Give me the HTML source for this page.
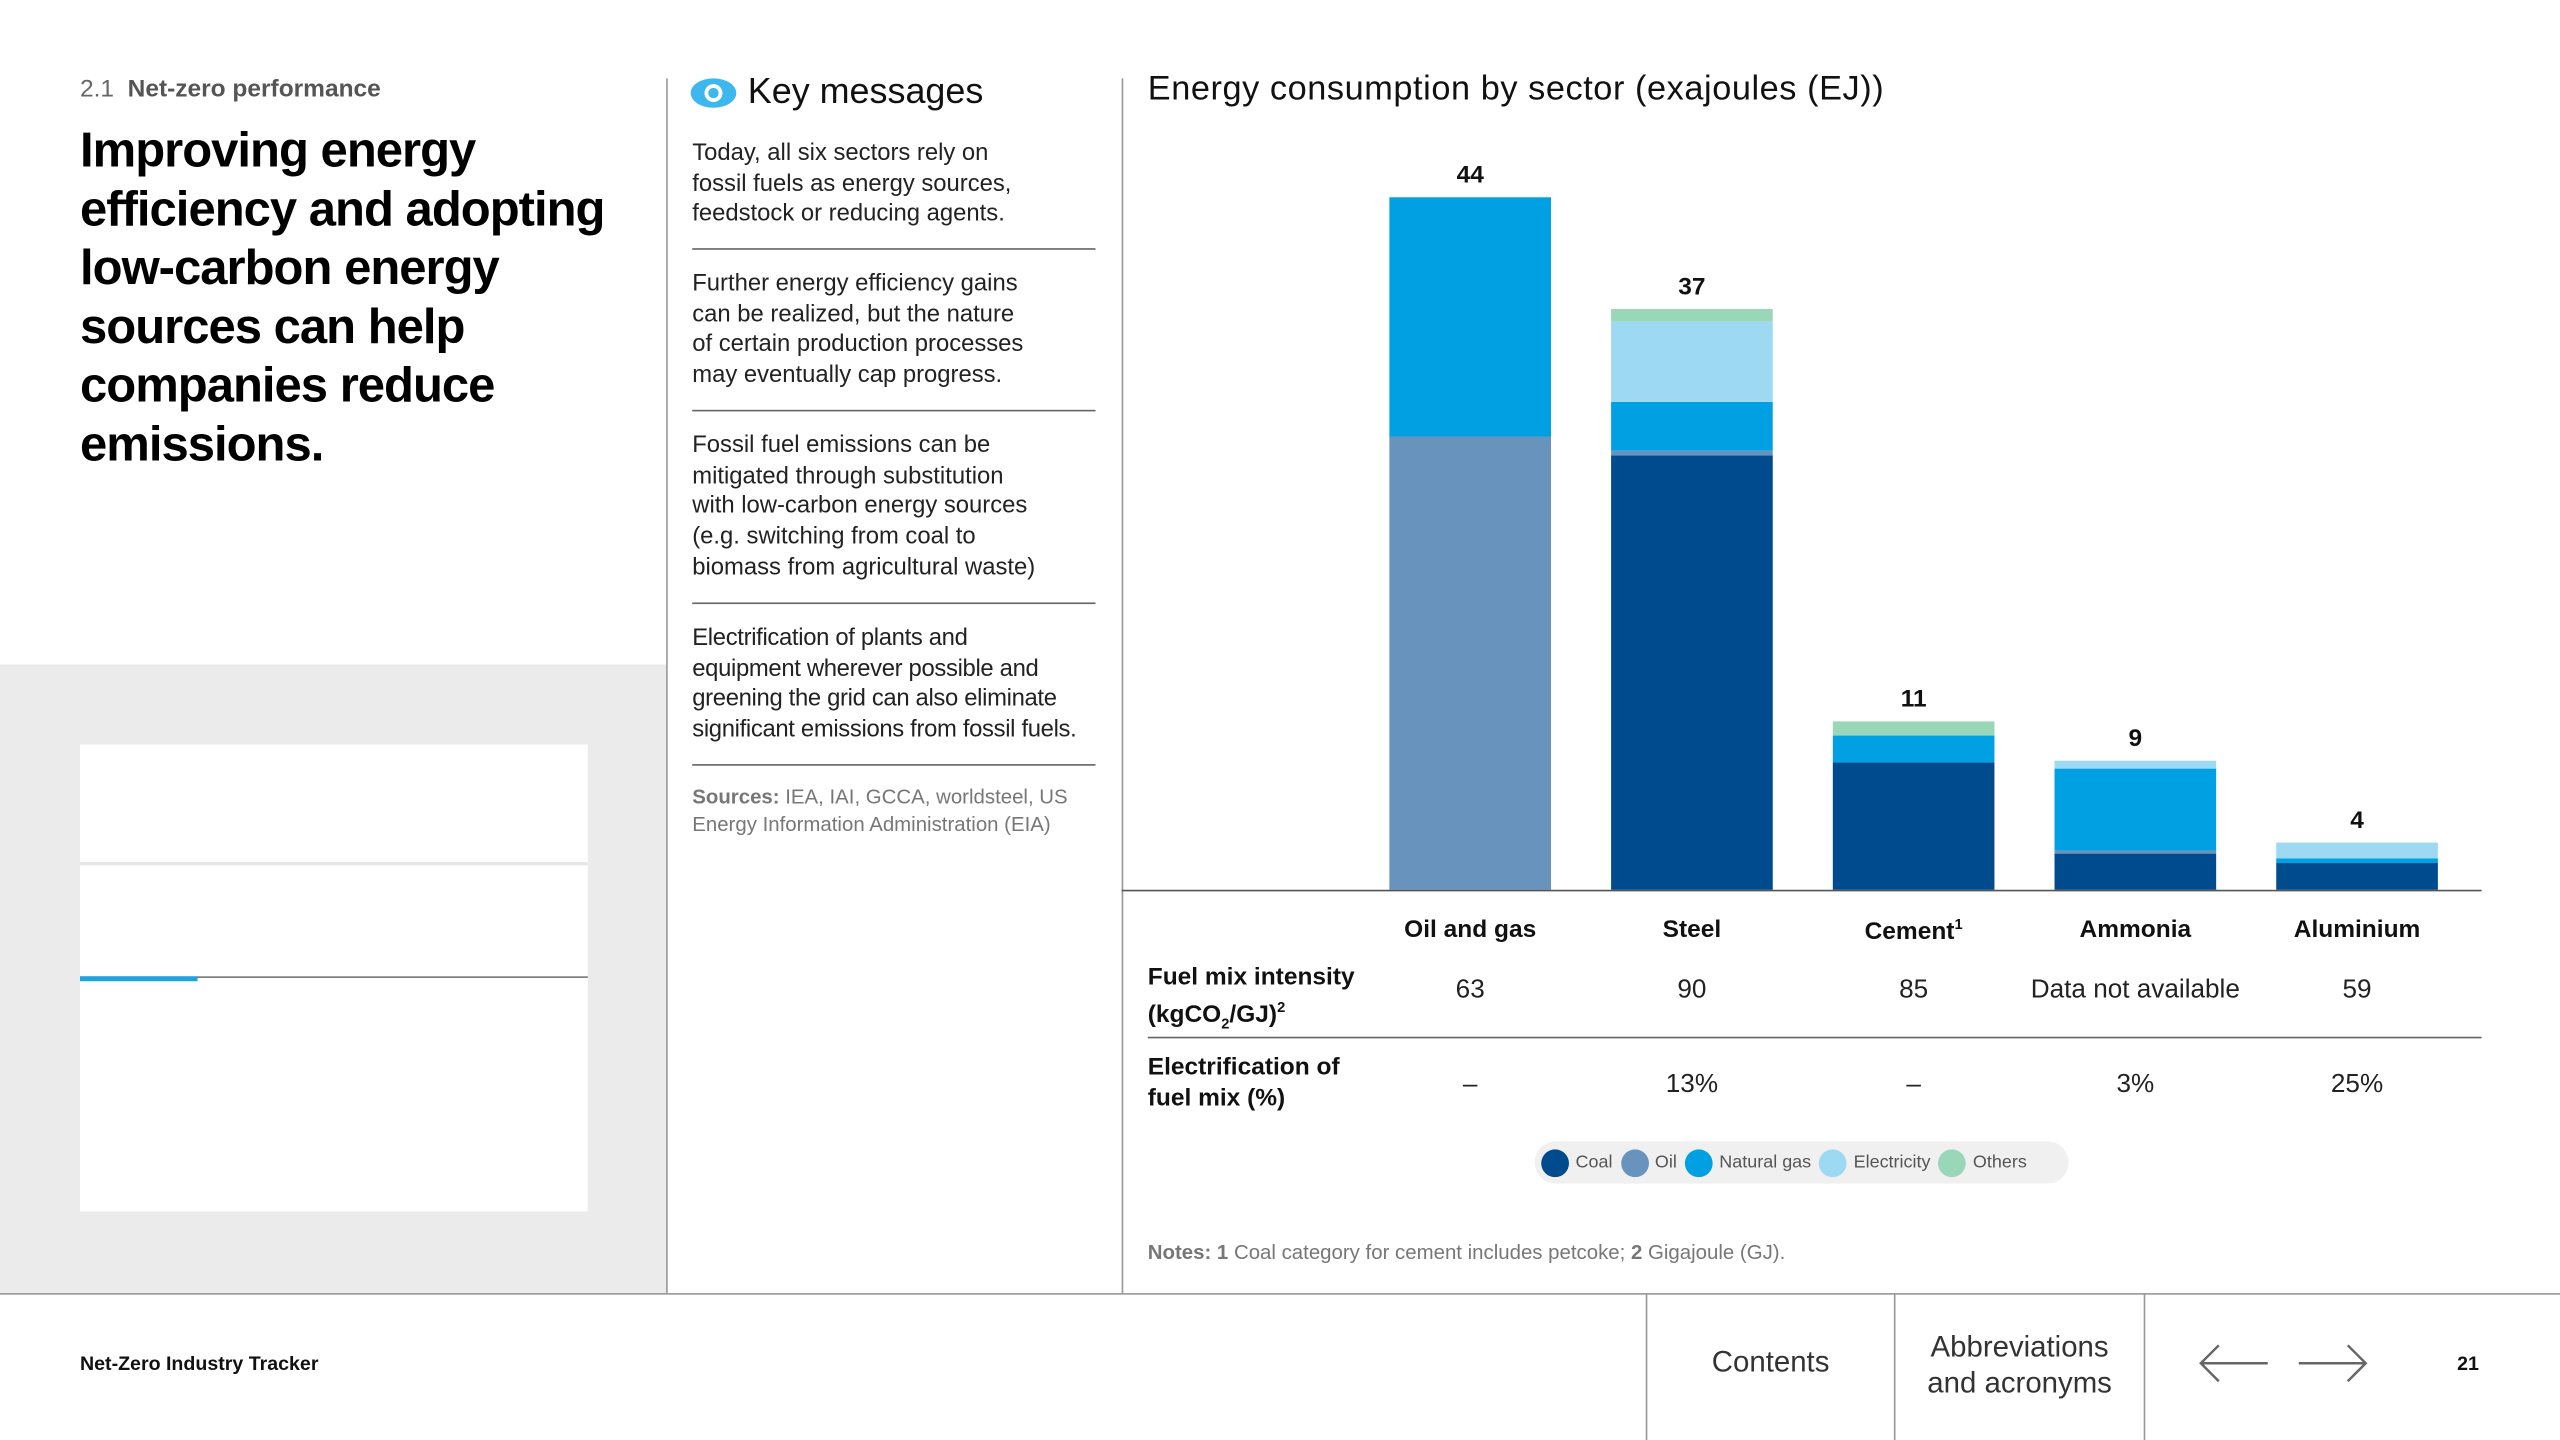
<!DOCTYPE html>
<html><head><meta charset="utf-8"><style>
html,body{margin:0;padding:0;background:#fff;}
body{width:2560px;height:1440px;overflow:hidden;position:relative;font-family:"Liberation Sans",Arial,sans-serif;color:#111;}
#page{position:absolute;left:0;top:0;width:1568px;height:882px;transform:scale(1.632653);transform-origin:0 0;}
.abs{position:absolute;}
.kp{position:absolute;left:424px;width:262px;font-size:14.6px;line-height:18.7px;color:#222;white-space:nowrap;}
.sep{position:absolute;left:424px;width:247px;height:1px;background:#666;}
</style></head><body>
<div id="page">
  <div class="abs" style="left:49px;top:46px;font-size:15px;color:#666;">2.1&nbsp; <b style="color:#555;">Net-zero performance</b></div>
  <div class="abs" style="left:49px;top:75px;width:360px;font-size:30px;line-height:36px;font-weight:bold;color:#000;letter-spacing:-0.6px;white-space:nowrap;">Improving energy<br>efficiency and adopting<br>low-carbon energy<br>sources can help<br>companies reduce<br>emissions.</div>
  <div class="abs" style="left:0;top:407px;width:408px;height:385px;background:#ebebeb;"></div>
  <div class="abs" style="left:49px;top:456px;width:311px;height:286px;background:#fff;">
    <div class="abs" style="left:0;top:72px;width:311px;height:2px;background:#e6e6e6;"></div>
    <div class="abs" style="left:0;top:142px;width:311px;height:1px;background:#777;"></div>
    <div class="abs" style="left:0;top:142px;width:72px;height:3px;background:#1ea3dd;"></div>
  </div>
  <div class="abs" style="left:408px;top:48px;width:1px;height:744px;background:#999;"></div>
  <div class="abs" style="left:687px;top:48px;width:1px;height:744px;background:#999;"></div>

  <svg class="abs" style="left:423px;top:47px;" width="30" height="20" viewBox="0 0 30 20"><ellipse cx="14" cy="10" rx="14" ry="9" fill="#3cb8ef"/><circle cx="14" cy="10" r="5.5" fill="#fff"/><circle cx="14" cy="10" r="3.2" fill="#3cb8ef"/></svg>
  <div class="abs" style="left:458px;top:43px;font-size:22px;color:#111;">Key messages</div>
  <div class="kp" style="top:85px;">Today, all six sectors rely on<br>fossil fuels as energy sources,<br>feedstock or reducing agents.</div>
  <div class="sep" style="top:152px;"></div>
  <div class="kp" style="top:165px;">Further energy efficiency gains<br>can be realized, but the nature<br>of certain production processes<br>may eventually cap progress.</div>
  <div class="sep" style="top:251px;"></div>
  <div class="kp" style="top:264px;">Fossil fuel emissions can be<br>mitigated through substitution<br>with low-carbon energy sources<br>(e.g. switching from coal to<br>biomass from agricultural waste)</div>
  <div class="sep" style="top:369px;"></div>
  <div class="kp" style="top:382px;letter-spacing:-0.2px;">Electrification of plants and<br>equipment wherever possible and<br>greening the grid can also eliminate<br>significant emissions from fossil fuels.</div>
  <div class="sep" style="top:468px;"></div>
  <div class="abs" style="left:424px;top:480px;width:250px;font-size:12.5px;line-height:16.5px;color:#777;"><b>Sources:</b> IEA, IAI, GCCA, worldsteel, US Energy Information Administration (EIA)</div>

  <div class="abs" style="left:703px;top:43px;font-size:21px;color:#111;letter-spacing:0.35px;">Energy consumption by sector (exajoules (EJ))</div>
  <svg class="abs" id="chart" style="left:0;top:0;" width="1568" height="560"></svg>

  <div class="abs" style="left:703px;top:589px;font-size:15px;line-height:19px;font-weight:bold;">Fuel mix intensity<br>(kgCO<sub style="font-size:9px;">2</sub>/GJ)<sup style="font-size:9px;">2</sup></div>
  <div class="abs" style="left:703px;top:635px;width:817px;height:1px;background:#666;"></div>
  <div class="abs" style="left:703px;top:644px;font-size:15px;line-height:19px;font-weight:bold;">Electrification of<br>fuel mix (%)</div>
  <div id="table"></div>

  <div class="abs" style="left:940px;top:699px;width:327px;height:26px;background:#f0f0f0;border-radius:13px;font-size:11px;color:#555;">
    <div id="legend" style="position:absolute;left:4px;top:4px;display:flex;align-items:center;height:18px;"></div>
  </div>
  <div class="abs" style="left:703px;top:760px;font-size:12.5px;color:#777;"><b>Notes: 1</b> Coal category for cement includes petcoke; <b>2</b> Gigajoule (GJ).</div>

  <div class="abs" style="left:0;top:792px;width:1568px;height:1px;background:#999;"></div>
  <div class="abs" style="left:49px;top:828px;font-size:12px;font-weight:bold;color:#111;">Net-Zero Industry Tracker</div>
  <div class="abs" style="left:1008px;top:792px;width:1px;height:90px;background:#999;"></div>
  <div class="abs" style="left:1160px;top:792px;width:1px;height:90px;background:#999;"></div>
  <div class="abs" style="left:1313px;top:792px;width:1px;height:90px;background:#999;"></div>
  <div class="abs" style="left:1009px;top:824px;width:151px;text-align:center;font-size:18px;color:#333;">Contents</div>
  <div class="abs" style="left:1161px;top:814px;width:152px;text-align:center;font-size:18px;line-height:22px;color:#333;">Abbreviations<br>and acronyms</div>
  <svg class="abs" style="left:1345px;top:822px;" width="46" height="26"><path d="M44 13H3M14 2L3 13L14 24" stroke="#666" stroke-width="1.5" fill="none"/></svg>
  <svg class="abs" style="left:1406px;top:822px;" width="46" height="26"><path d="M2 13H43M32 2L43 13L32 24" stroke="#666" stroke-width="1.5" fill="none"/></svg>
  <div class="abs" style="left:1505px;top:828px;font-size:12px;font-weight:bold;">21</div>
</div>
<script>
const categories = ["Oil and gas","Steel","Cement","Ammonia","Aluminium"];
const catSup = ["","","1","",""];
const totals = [44,37,11,9,4];
const coal = [0,27.6,8.1,2.3,1.7];
const oil = [28.8,0.3,0,0.2,0];
const gas = [15.2,3.1,1.7,5.2,0.3];
const electricity = [0,5.1,0,0.5,1.0];
const others = [0,0.8,0.9,0,0];
const intensity = ["63","90","85","Data not available","59"];
const electrification = ["–","13%","–","3%","25%"];
const seriesNames = ["Coal","Oil","Natural gas","Electricity","Others"];
const seriesColors = ["#004b8d","#6793bd","#00a0e2","#9dd9f3","#9ad6b8"];

const NS="http://www.w3.org/2000/svg";
const svg=document.getElementById('chart');
const baseY=545, pxPerUnit=9.64, x0=851, step=135.8, barW=99;
const xPos=i=>x0+i*step;
const yScale=v=>v*pxPerUnit;
const series=[coal,oil,gas,electricity,others];
const axis=document.createElementNS(NS,'line');


axis.setAttribute('x1',687);axis.setAttribute('x2',1520);axis.setAttribute('y1',baseY+0.5);axis.setAttribute('y2',baseY+0.5);
axis.setAttribute('stroke','#555');axis.setAttribute('stroke-width','1');
categories.forEach((c,i)=>{
  let acc=0;
  series.forEach((s,k)=>{
    const v=s[i]; if(!v) return;
    const r=document.createElementNS(NS,'rect');
    
    
    r.setAttribute('x',xPos(i));r.setAttribute('width',barW);
    r.setAttribute('y',baseY-yScale(acc+v));r.setAttribute('height',yScale(v));
    r.setAttribute('fill',seriesColors[k]);
    svg.appendChild(r);
    acc+=v;
  });
  const t=document.createElementNS(NS,'text');
  
  
  t.setAttribute('x',xPos(i)+barW/2);t.setAttribute('y',baseY-yScale(acc)-9);
  t.setAttribute('text-anchor','middle');t.setAttribute('font-size','15');t.setAttribute('font-weight','bold');t.setAttribute('fill','#111');
  t.textContent=totals[i];
  svg.appendChild(t);
});
svg.appendChild(axis);
const table=document.getElementById('table');
categories.forEach((c,i)=>{
  const cx=xPos(i)+barW/2;
  const mk=(txt,top,name,bold)=>{
    const d=document.createElement('div');
    
    
    d.style.cssText='position:absolute;left:'+(cx-90)+'px;width:180px;text-align:center;top:'+top+'px;font-size:'+(bold?15:16)+'px;'+(bold?'font-weight:bold;':'color:#222;');
    d.innerHTML=txt;
    table.appendChild(d);
  };
  mk(c+(catSup[i]?'<sup style="font-size:9px;">'+catSup[i]+'</sup>':''),561,'category-label',true);
  mk(intensity[i],598,'intensity-value',false);
  mk(electrification[i],656,'electrification-value',false);
});
const lg=document.getElementById('legend');
seriesNames.forEach((n,k)=>{
  const it=document.createElement('div');
  
  
  it.style.cssText='display:flex;align-items:center;margin-right:5px;';
  it.innerHTML='<span style="display:inline-block;width:17px;height:17px;border-radius:50%;background:'+seriesColors[k]+';margin-right:4px;"></span><span>'+n+'</span>';
  lg.appendChild(it);
});
</script>
</body></html>
